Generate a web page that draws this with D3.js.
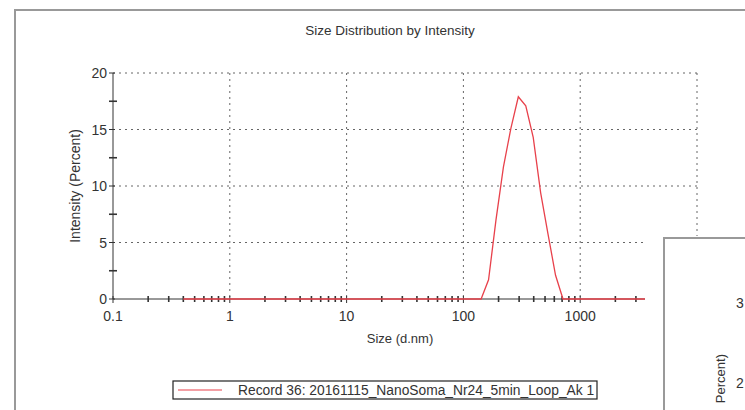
<!DOCTYPE html>
<html>
<head>
<meta charset="utf-8">
<script src="https://cdn.jsdelivr.net/npm/d3@7"></script>
<style>
  body { margin: 0; background: #fff; }
  text { font-family: "Liberation Sans", Arial, sans-serif; fill: #333; }
</style>
</head>
<body>
<div id="chart"></div>
<script>
// size bins (d.nm), Malvern 70-bin layout
const sizes = [0.4, 0.4632, 0.5365, 0.6213, 0.7195, 0.8332, 0.9649, 1.117, 1.294, 1.499,
  1.736, 2.01, 2.328, 2.696, 3.122, 3.615, 4.187, 4.849, 5.615, 6.503,
  7.531, 8.721, 10.1, 11.7, 13.54, 15.69, 18.17, 21.04, 24.36, 28.21,
  32.67, 37.84, 43.82, 50.75, 58.77, 68.06, 78.82, 91.28, 105.7, 122.4,
  141.8, 164.2, 190.1, 220.2, 255.0, 295.3, 342.0, 396.1, 458.7, 531.2,
  615.1, 712.4, 825.0, 955.4, 1106, 1281, 1484, 1718, 1990, 2305,
  2669, 3091, 3580, 4145, 4801, 5560, 6439, 7456, 8635, 10000];
// intensity (percent) per bin
const intensity = [0, 0, 0, 0, 0, 0, 0, 0, 0, 0,
  0, 0, 0, 0, 0, 0, 0, 0, 0, 0,
  0, 0, 0, 0, 0, 0, 0, 0, 0, 0,
  0, 0, 0, 0, 0, 0, 0, 0, 0, 0,
  0, 1.7, 7.0, 11.7, 15.1, 17.9, 17.1, 14.3, 9.4, 5.7,
  2.1, 0, 0, 0, 0, 0, 0, 0, 0, 0,
  0, 0, 0, 0, 0, 0, 0, 0, 0, 0];

const xTicks = [0.1, 1, 10, 100, 1000, 10000];
const xTickLabels = ["0.1", "1", "10", "100", "1000", ""];
const yTicks = [0, 5, 10, 15, 20];
const yMinorTicks = [2.5, 7.5, 12.5, 17.5];

const title = "Size Distribution by Intensity";
const xTitle = "Size (d.nm)";
const yTitle = "Intensity (Percent)";
const legendLabel = "Record 36: 20161115_NanoSoma_Nr24_5min_Loop_Ak 1";

const W = 745, H = 410;
const plot = {left: 113, right: 697, top: 73, bottom: 299};

const svg = d3.select("#chart").append("svg")
  .attr("width", W)
  .attr("height", H);

// outer frame (top + left edge visible)
svg.append("path")
  .attr("d", `M15,${H} L15,10 L${W},10`)
  .attr("fill", "none")
  .attr("stroke", "#999")
  .attr("stroke-width", 2);

svg.append("text")
  .attr("x", 390)
  .attr("y", 35)
  .attr("text-anchor", "middle")
  .style("font-size", "13.5px")
  .text(title);

const x = d3.scaleLog().domain([0.1, 10000]).range([plot.left, plot.right]);
const y = d3.scaleLinear().domain([0, 20]).range([plot.bottom, plot.top]);

// grid
const grid = svg.append("g")
  .attr("stroke", "#666")
  .attr("stroke-width", 1)
  .attr("stroke-dasharray", "2,4");
grid.selectAll(".hg")
  .data(yTicks.filter(d => d > 0))
  .enter().append("line")
  .attr("x1", plot.left).attr("x2", plot.right)
  .attr("y1", d => y(d)).attr("y2", d => y(d));
grid.selectAll(".vg")
  .data(xTicks.filter(d => d > 0.1))
  .enter().append("line")
  .attr("x1", d => x(d)).attr("x2", d => x(d))
  .attr("y1", plot.top).attr("y2", plot.bottom);

// y axis
const yAxis = svg.append("g").attr("stroke", "#333");
yAxis.append("line")
  .attr("x1", plot.left).attr("x2", plot.left)
  .attr("y1", plot.top).attr("y2", plot.bottom);
yAxis.selectAll(".yt")
  .data(yTicks)
  .enter().append("line")
  .attr("x1", plot.left - 4).attr("x2", plot.left + 2)
  .attr("y1", d => y(d)).attr("y2", d => y(d));
yAxis.selectAll(".ym")
  .data(yMinorTicks)
  .enter().append("line")
  .attr("x1", plot.left - 4).attr("x2", plot.left + 4)
  .attr("y1", d => y(d)).attr("y2", d => y(d))
  .attr("stroke-width", 1.6);
svg.selectAll(".ylab")
  .data(yTicks)
  .enter().append("text")
  .attr("x", plot.left - 6)
  .attr("y", d => y(d) + 5)
  .attr("text-anchor", "end")
  .style("font-size", "14px")
  .text(d => d);

svg.append("text")
  .attr("transform", `translate(80,${(plot.top + plot.bottom) / 2}) rotate(-90)`)
  .attr("text-anchor", "middle")
  .style("font-size", "14px")
  .text(yTitle);

// x axis
const xAxis = svg.append("g").attr("stroke", "#333");
xAxis.append("line")
  .attr("x1", plot.left).attr("x2", plot.right)
  .attr("y1", plot.bottom).attr("y2", plot.bottom);
const minor = [];
xTicks.slice(0, -1).forEach(d => {
  for (let k = 2; k <= 9; k++) minor.push(d * k);
});
xAxis.selectAll(".xm")
  .data(minor)
  .enter().append("line")
  .attr("x1", d => x(d)).attr("x2", d => x(d))
  .attr("y1", plot.bottom - 3).attr("y2", plot.bottom + 3)
  .attr("stroke-width", 1.6);
xAxis.selectAll(".xt")
  .data(xTicks)
  .enter().append("line")
  .attr("x1", d => x(d)).attr("x2", d => x(d))
  .attr("y1", plot.bottom - 3).attr("y2", plot.bottom + 4);
svg.selectAll(".xlab")
  .data(xTicks)
  .enter().append("text")
  .attr("x", d => x(d))
  .attr("y", 321)
  .attr("text-anchor", "middle")
  .style("font-size", "14px")
  .text((d, i) => xTickLabels[i]);

svg.append("text")
  .attr("x", 400)
  .attr("y", 343)
  .attr("text-anchor", "middle")
  .style("font-size", "13px")
  .text(xTitle);

// distribution line
const points = sizes.map((s, i) => ({size: s, pct: intensity[i]}));
const line = d3.line()
  .x(d => x(d.size))
  .y(d => y(d.pct));
svg.append("path")
  .datum(points)
  .attr("fill", "none")
  .attr("stroke", "#e8414b")
  .attr("stroke-width", 1.3)
  .attr("d", line);

// legend
const legend = svg.append("g");
legend.append("rect")
  .attr("x", 173).attr("y", 381)
  .attr("width", 424).attr("height", 18)
  .attr("fill", "#fff")
  .attr("stroke", "#222")
  .attr("stroke-width", 1.2);
legend.append("line")
  .attr("x1", 178).attr("x2", 222)
  .attr("y1", 390).attr("y2", 390)
  .attr("stroke", "#e8414b")
  .attr("stroke-width", 1.2);
legend.append("text")
  .attr("x", 238).attr("y", 395)
  .style("font-size", "13.8px")
  .text(legendLabel);

// neighbouring chart panel overlapping on the right
const inset = svg.append("g");
inset.append("rect")
  .attr("x", 645).attr("y", 236)
  .attr("width", W - 645).attr("height", H - 236)
  .attr("fill", "#fff");
inset.append("path")
  .attr("d", `M664,${H} L664,238 L${W},238`)
  .attr("fill", "none")
  .attr("stroke", "#999")
  .attr("stroke-width", 2);
inset.append("text")
  .attr("x", 736).attr("y", 308)
  .style("font-size", "14px")
  .text("3");
inset.append("text")
  .attr("x", 736).attr("y", 388)
  .style("font-size", "14px")
  .text("2");
inset.append("text")
  .attr("transform", "translate(725,354) rotate(-90)")
  .attr("text-anchor", "end")
  .style("font-size", "13px")
  .text("Percent)");
</script>
</body>
</html>
